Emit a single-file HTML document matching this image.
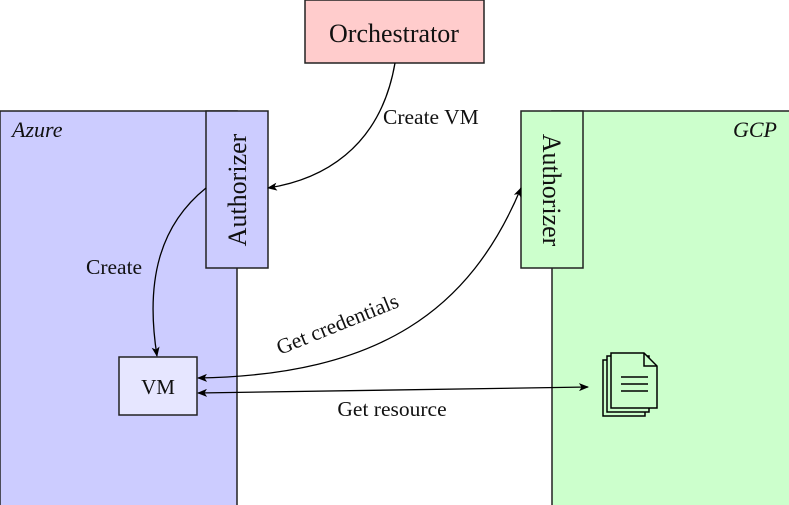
<!DOCTYPE html>
<html><head><style>
html,body{margin:0;padding:0;background:#fff;}
svg{display:block;}
text{font-family:"Liberation Serif",serif;fill:#111;}
</style></head><body>
<svg width="789" height="505" viewBox="0 0 789 505" xmlns="http://www.w3.org/2000/svg">
<defs>
<marker id="a" markerWidth="10" markerHeight="8" refX="9" refY="4" orient="auto" markerUnits="userSpaceOnUse">
<path d="M0,0 L10,4 L0,8 L2.5,4 Z" fill="#000"/></marker>
<marker id="s" markerWidth="10" markerHeight="8" refX="1" refY="4" orient="auto" markerUnits="userSpaceOnUse">
<path d="M10,0 L0,4 L10,8 L7.5,4 Z" fill="#000"/></marker>
</defs>
<rect x="0" y="111" width="237" height="400" fill="#ccccff" stroke="#222" stroke-width="1.5"/>
<rect x="552" y="111" width="240" height="400" fill="#ccffcc" stroke="#222" stroke-width="1.5"/>
<rect x="206" y="111" width="62" height="157" fill="#ccccff" stroke="#222" stroke-width="1.5"/>
<rect x="521" y="111" width="62" height="157" fill="#ccffcc" stroke="#222" stroke-width="1.5"/>
<rect x="305" y="0" width="179" height="63" fill="#ffcccc" stroke="#222" stroke-width="1.5"/>
<rect x="119" y="357" width="78" height="58" fill="#e6e6ff" stroke="#222" stroke-width="1.5"/>
<text x="12" y="137" font-size="22" font-style="italic">Azure</text>
<text x="777" y="137" font-size="22" font-style="italic" text-anchor="end">GCP</text>
<text x="394" y="42" font-size="26" text-anchor="middle">Orchestrator</text>
<text x="158" y="394" font-size="21" text-anchor="middle">VM</text>
<text transform="translate(246,190) rotate(-90)" font-size="26" text-anchor="middle">Authorizer</text>
<text transform="translate(543,190) rotate(90)" font-size="26" text-anchor="middle">Authorizer</text>
<path d="M395,63 C380,150 320,180 268,188" fill="none" stroke="#000" stroke-width="1.3" marker-end="url(#a)"/>
<text x="383" y="124" font-size="21.5">Create VM</text>
<path d="M206,188 C160,225 145,280 157,356" fill="none" stroke="#000" stroke-width="1.3" marker-end="url(#a)"/>
<text x="86" y="274" font-size="21.5">Create</text>
<path d="M198,378 C380,375 470,310 521,188" fill="none" stroke="#000" stroke-width="1.3" marker-start="url(#s)" marker-end="url(#a)"/>
<text transform="translate(280,355) rotate(-22)" font-size="21.5">Get credentials</text>
<path d="M198,393 L588,387" fill="none" stroke="#000" stroke-width="1.3" marker-start="url(#s)" marker-end="url(#a)"/>
<text x="392" y="416" font-size="21.5" text-anchor="middle">Get resource</text>
<g fill="#ccffcc" stroke="#000" stroke-width="1.5">
<path d="M603,360 L603,416 L645,416 L645,360 Z"/>
<path d="M607,356 L607,412 L649,412 L649,356 Z"/>
<path d="M611,353 L644,353 L657,366 L657,408 L611,408 Z"/>
<path d="M644,353 L644,366 L657,366" fill="none"/>
<path d="M621,377 L648,377 M621,384 L648,384 M621,391 L648,391" fill="none"/>
</g>
</svg>
</body></html>
